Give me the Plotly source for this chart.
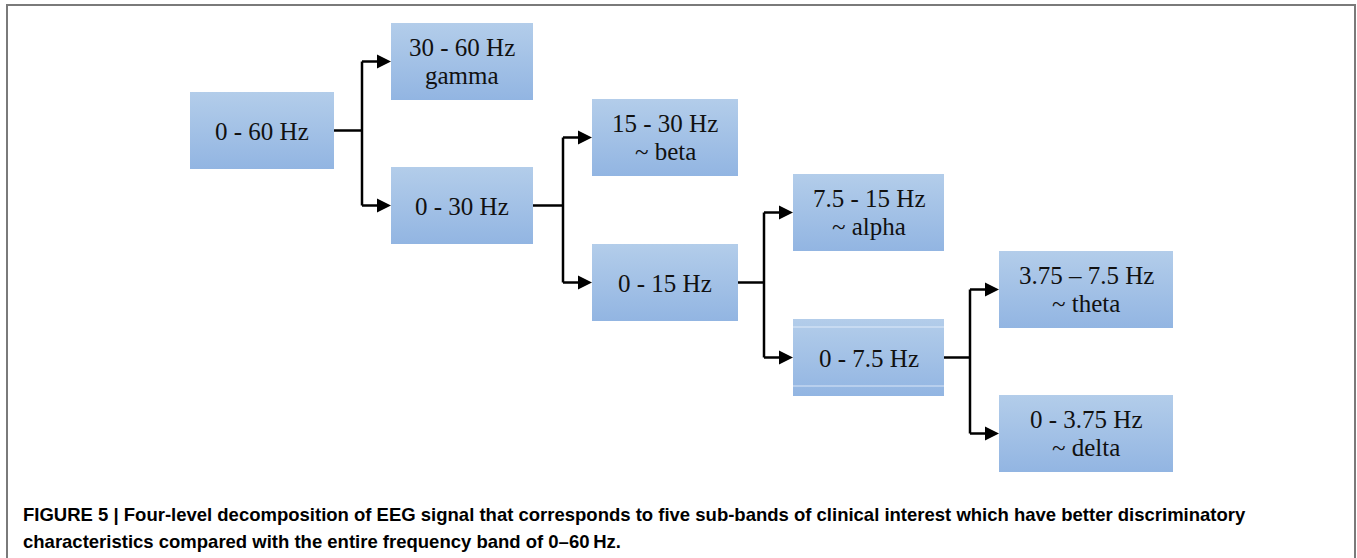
import plotly.graph_objects as go

# ---- diagram content ----
node_line1 = ["0 - 60 Hz", "30 - 60 Hz", "0 - 30 Hz", "15 - 30 Hz", "0 - 15 Hz",
              "7.5 - 15 Hz", "0 - 7.5 Hz", "3.75 \u2013 7.5 Hz", "0 - 3.75 Hz"]
node_line2 = ["", "gamma", "", "~ beta", "", "~ alpha", "", "~ theta", "~ delta"]
node_level = [0, 1, 1, 2, 2, 3, 3, 4, 4]
node_parent = [None, 0, 0, 2, 2, 4, 4, 6, 6]
node_top = [92, 23, 167, 99, 244, 174, 319, 251, 395]
level_left = [190, 391, 592, 793, 999]
level_width = [144, 142, 146, 151, 174]
box_height = 77

caption_line1 = ("FIGURE 5 | Four-level decomposition of EEG signal that corresponds to five "
                 "sub-bands of clinical interest which have better discriminatory")
caption_line2 = "characteristics compared with the entire frequency band of 0\u201360\u2009Hz."

W, H = 1357, 558
top_color = "#b3cdea"
bot_color = "#92b5e2"
serif = "Liberation Serif"
fsize = 25

fig = go.Figure()
shapes = []
annotations = []


def box(i):
    x0 = level_left[node_level[i]]
    x1 = x0 + level_width[node_level[i]]
    y0 = node_top[i]
    y1 = y0 + box_height
    return x0, x1, y0, y1


# boxes with vertical gradient
for i in range(len(node_line1)):
    x0, x1, y0, y1 = box(i)
    fig.add_trace(go.Scatter(
        x=[x0, x1, x1, x0, x0], y=[y0, y0, y1, y1, y0],
        mode="lines", line=dict(width=0), fill="toself",
        fillgradient=dict(type="vertical",
                          colorscale=[[0, top_color], [1, bot_color]],
                          start=y0, stop=y1),
        hoverinfo="skip", showlegend=False))
    cx = (x0 + x1) / 2
    cy = (y0 + y1) / 2
    if node_line2[i]:
        annotations.append(dict(x=cx, y=cy - 14, text=node_line1[i], showarrow=False,
                                xanchor="center", yanchor="middle",
                                font=dict(family=serif, size=fsize, color="#111")))
        annotations.append(dict(x=cx, y=cy + 14, text=node_line2[i], showarrow=False,
                                xanchor="center", yanchor="middle",
                                font=dict(family=serif, size=fsize, color="#111")))
    else:
        annotations.append(dict(x=cx, y=cy + 1, text=node_line1[i], showarrow=False,
                                xanchor="center", yanchor="middle",
                                font=dict(family=serif, size=fsize, color="#111")))

# odd double edge on the "0 - 7.5 Hz" box
gx0, gx1, gy0, gy1 = box(6)
for yy in (gy0 + 8, gy1 - 10):
    shapes.append(dict(type="line", x0=gx0, x1=gx1, y0=yy, y1=yy,
                       line=dict(color="rgba(235,242,252,0.8)", width=1)))

# connectors and arrowheads
gap = 29
head = 14
lw = 2.5
parents = sorted(set(p for p in node_parent if p is not None))
for p in parents:
    kids = [i for i, q in enumerate(node_parent) if q == p]
    px0, px1, py0, py1 = box(p)
    pmid = (py0 + py1) / 2
    kx0 = box(kids[0])[0]
    jx = kx0 - gap
    kmids = [(box(k)[2] + box(k)[3]) / 2 for k in kids]
    shapes.append(dict(type="line", x0=px1, x1=jx, y0=pmid, y1=pmid,
                       line=dict(color="black", width=lw)))
    shapes.append(dict(type="line", x0=jx, x1=jx, y0=min(kmids), y1=max(kmids),
                       line=dict(color="black", width=lw)))
    for k, km in zip(kids, kmids):
        shapes.append(dict(type="line", x0=jx, x1=kx0 - head + 1, y0=km, y1=km,
                           line=dict(color="black", width=lw)))
        shapes.append(dict(type="path",
                           path=f"M {kx0 - head} {km - 7} L {kx0} {km} L {kx0 - head} {km + 7} Z",
                           fillcolor="black", line=dict(width=0)))

# frame
frame = dict(color="#7a7a7a", width=2)
shapes.append(dict(type="line", x0=6, x1=1355, y0=5, y1=5, line=frame))
shapes.append(dict(type="line", x0=7, x1=7, y0=4, y1=H + 5, line=frame))
shapes.append(dict(type="line", x0=1355, x1=1355, y0=4, y1=H + 5, line=frame))

# caption
cap_font = dict(family="Liberation Sans", size=18.5, color="black")
annotations.append(dict(x=21, y=514, text="<b>" + caption_line1 + "</b>", showarrow=False,
                        xanchor="left", yanchor="middle", font=cap_font))
annotations.append(dict(x=21, y=541, text="<b>" + caption_line2 + "</b>", showarrow=False,
                        xanchor="left", yanchor="middle", font=cap_font))

fig.update_layout(
    width=W, height=H, margin=dict(l=0, r=0, t=0, b=0),
    paper_bgcolor="white", plot_bgcolor="white",
    xaxis=dict(range=[0, W], visible=False, fixedrange=True),
    yaxis=dict(range=[H, 0], visible=False, fixedrange=True),
    shapes=shapes, annotations=annotations, showlegend=False,
)

fig.write_html("out.html", config={"displayModeBar": False},
               post_script="document.body.style.margin='0';document.body.style.overflow='hidden';")
